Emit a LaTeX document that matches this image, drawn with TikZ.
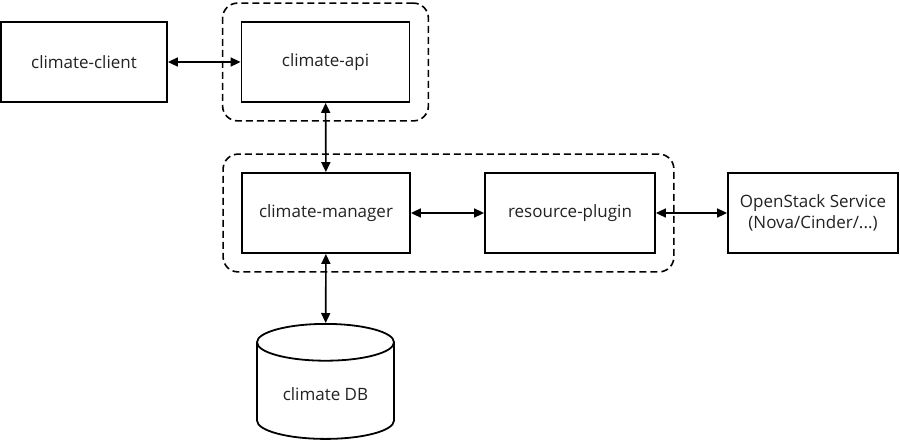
\documentclass[tikz,border=0pt]{standalone}
\usepackage{fontspec}
\setmainfont{Open Sans}
\usepackage{tikz}
\usetikzlibrary{positioning,arrows.meta,fit,shapes.geometric}
\definecolor{textGrey}{HTML}{222222}

\begin{document}
\begin{tikzpicture}[
    x=1pt, y=-1pt,
    box/.style={draw, line width=1.8pt, minimum height=80pt, minimum width=168pt, font=\fontsize{17}{21}\selectfont, text=textGrey, fill=white, align=center},
    grp/.style={draw, dashed, dash pattern=on 7pt off 4pt, line width=1.6pt, rounded corners=15pt, inner sep=18pt},
    arr/.style={{Triangle[length=10pt,width=9pt]}-{Triangle[length=10pt,width=9pt]}, line width=1.6pt}
  ]
  \useasboundingbox (0,0) rectangle (900,440);
  \fill[white] (0,0) rectangle (900,440);

  \node[box, minimum width=166pt] (client) at (84,62) {climate-client};
  \node[box] (api) at (325.5,62) {climate-api};
  \node[box] (manager) at (326,213) {climate-manager};
  \node[box, minimum width=170pt] (plugin) at (570,213) {resource-plugin};
  \node[box, minimum width=170pt] (service) at (813,213) {OpenStack Service\\(Nova/Cinder/...)};
  \node[box, cylinder, shape border rotate=90, aspect=0.4, minimum width=137pt, minimum height=115pt, anchor=north] (db) at (325.5,323) {climate DB};

  % dashed groups
  \node[grp, fit=(api)] (apigrp) {};
  \node[grp, fit=(manager)(plugin)] (coregrp) {};

  \draw[arr] (client)--(api);
  \draw[arr] (api)--(manager);
  \draw[arr] (manager)--(plugin);
  \draw[arr] (plugin)--(service);
  \draw[arr] (manager)--(db);
\end{tikzpicture}
\end{document}
